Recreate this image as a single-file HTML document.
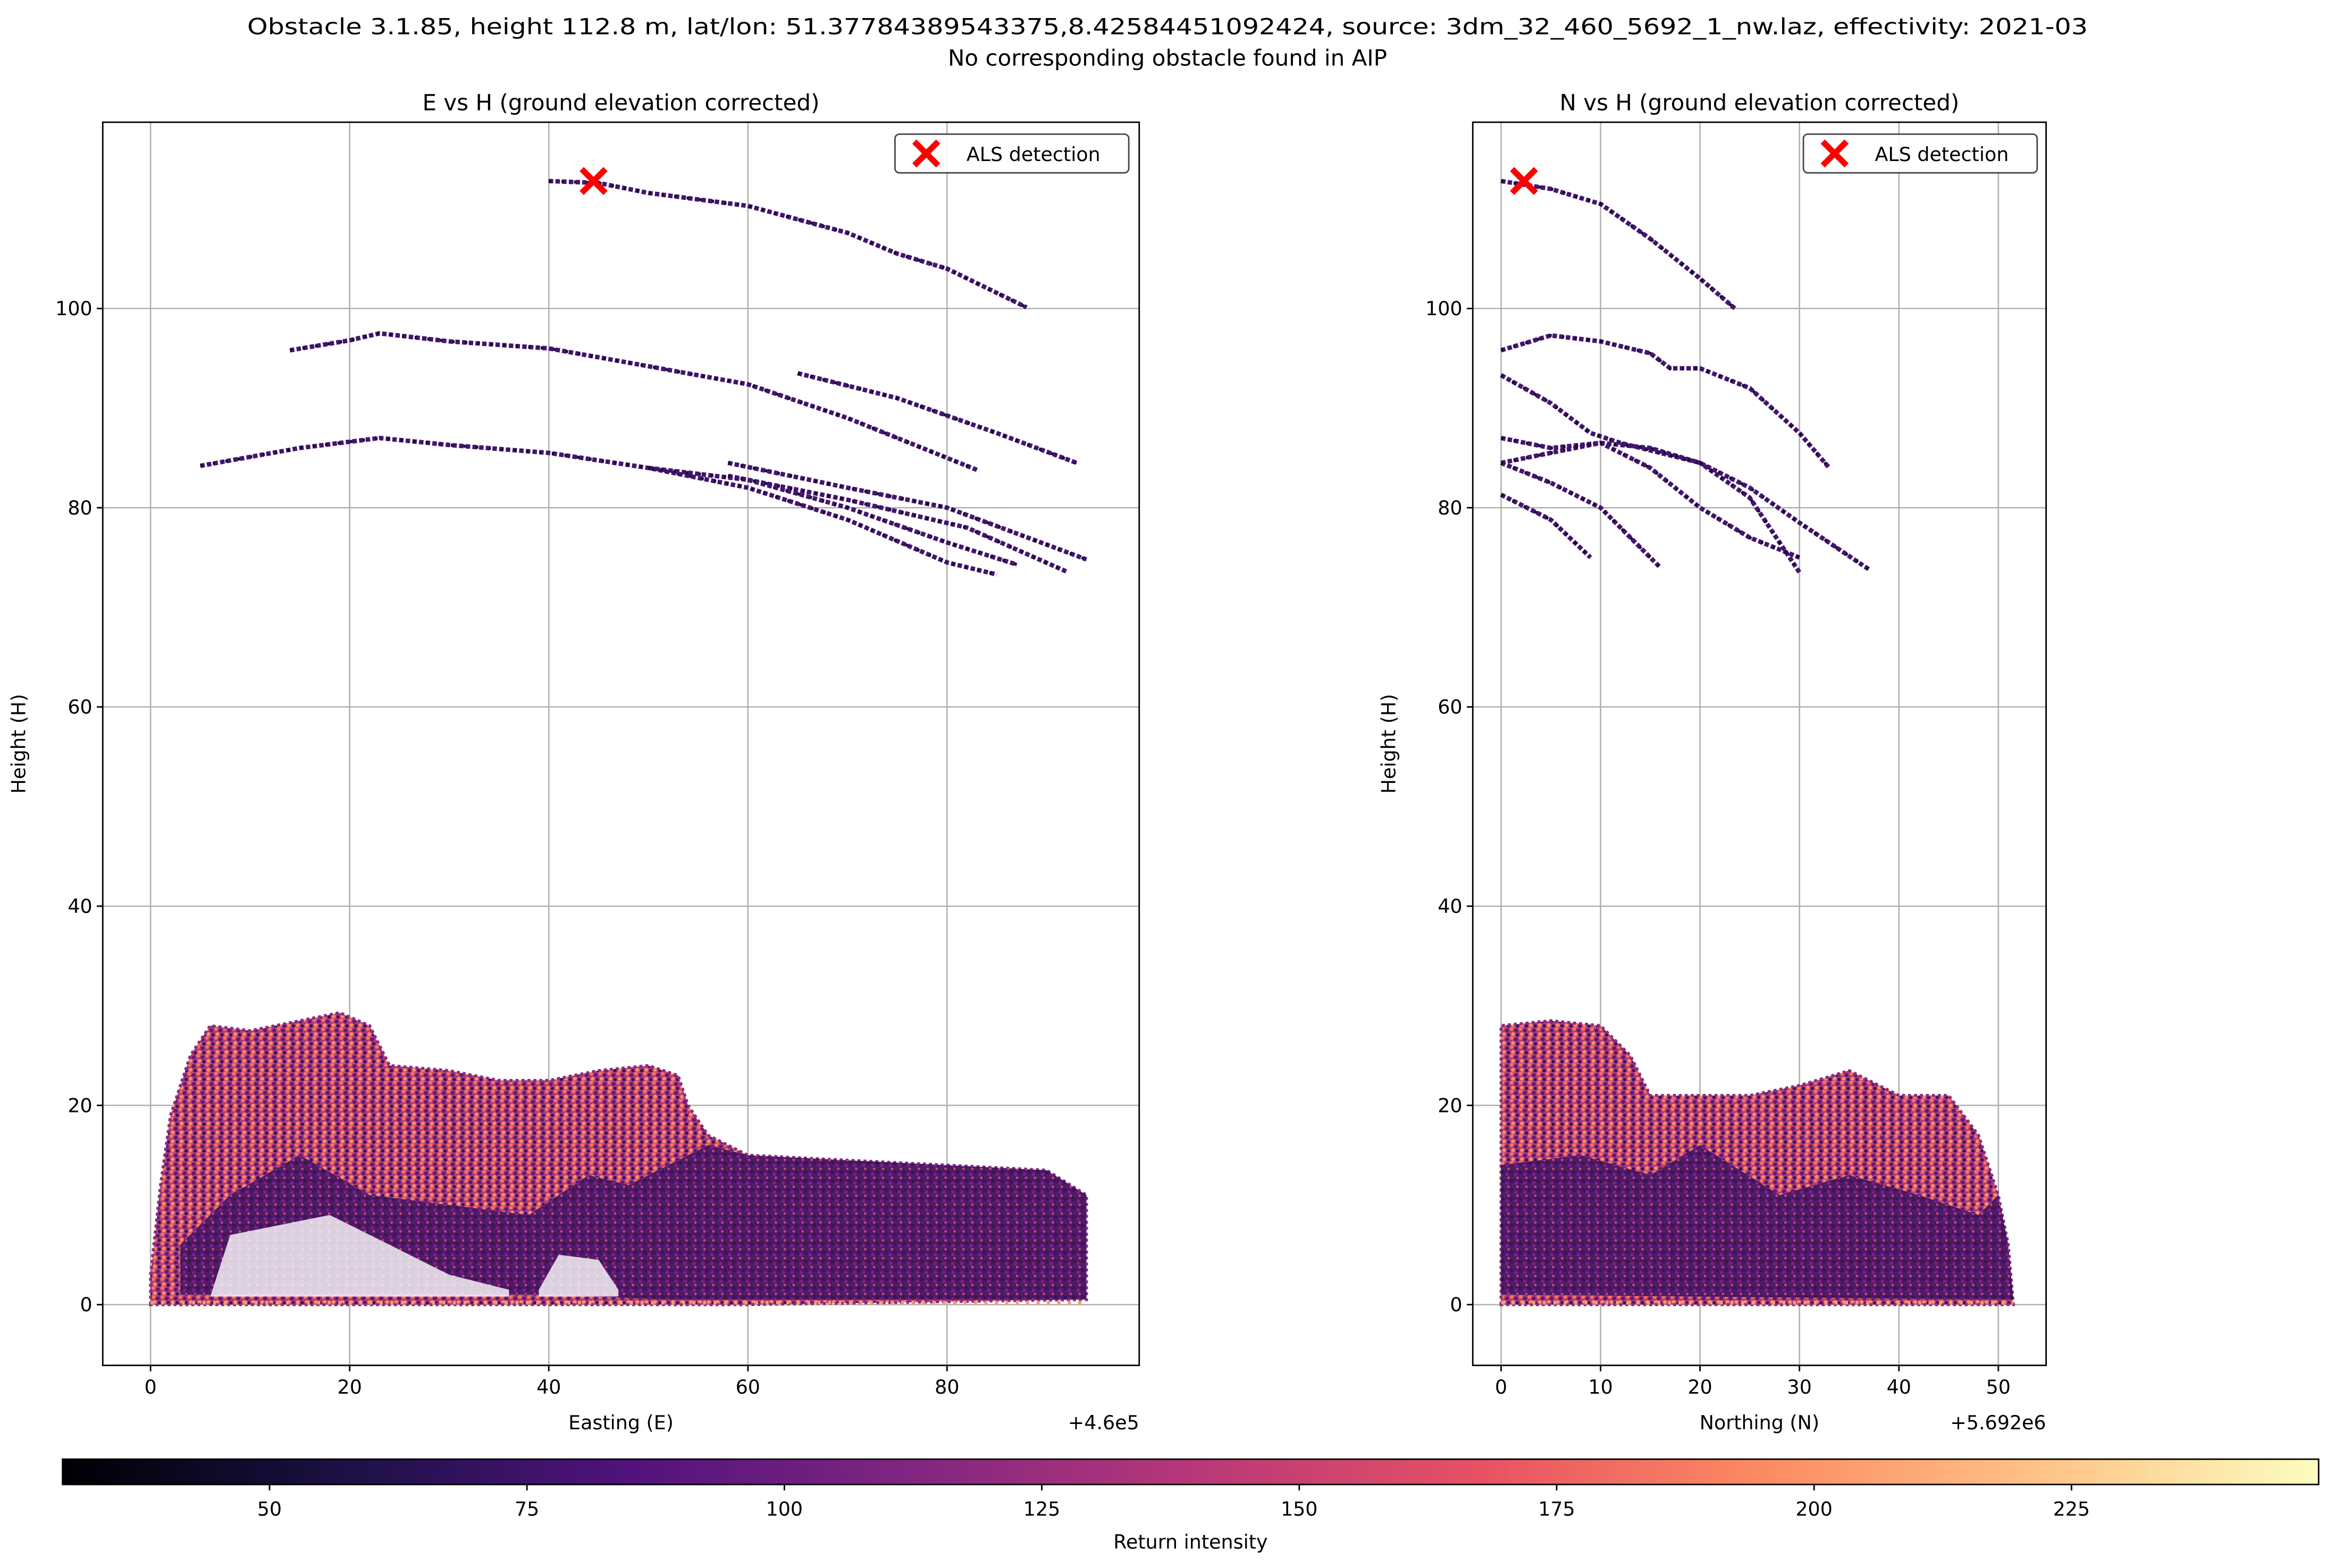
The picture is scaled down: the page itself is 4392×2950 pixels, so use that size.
<!DOCTYPE html>
<html><head><meta charset="utf-8"><style>
html,body{margin:0;padding:0;background:#fff;width:4392px;height:2950px;overflow:hidden}
svg{display:block}
text{font-family:"DejaVu Sans","Liberation Sans",sans-serif;fill:#000}
</style></head><body>
<svg id="fig" xmlns="http://www.w3.org/2000/svg" width="4392" height="2950" viewBox="0 0 1568 1053">
<defs>
<pattern id="pink" width="6" height="6" patternUnits="userSpaceOnUse">
<rect width="6" height="6" fill="#b23a78"/><circle cx="1" cy="1" r="1.3" fill="#f7765b"/><circle cx="4" cy="2" r="1.3" fill="#5a1a7a"/><circle cx="2" cy="4.5" r="1.3" fill="#fb8f63"/><circle cx="5" cy="5" r="1.1" fill="#2d1160"/><circle cx="3" cy="0" r="0.9" fill="#d94f6c"/>
</pattern>
<pattern id="dark" width="6" height="6" patternUnits="userSpaceOnUse">
<rect width="6" height="6" fill="#3d0f70"/><circle cx="1" cy="1" r="1.3" fill="#160b38"/><circle cx="4" cy="2.5" r="1.2" fill="#7d2482"/><circle cx="2" cy="4.5" r="1.2" fill="#28105a"/><circle cx="5" cy="5" r="0.9" fill="#e5546a"/>
</pattern>
<linearGradient id="magma" x1="0" x2="1" y1="0" y2="0">
<stop offset="0" stop-color="#000004"/><stop offset="0.13" stop-color="#1d1147"/><stop offset="0.25" stop-color="#51127c"/><stop offset="0.38" stop-color="#822681"/><stop offset="0.5" stop-color="#b73779"/><stop offset="0.63" stop-color="#e75263"/><stop offset="0.75" stop-color="#fc8961"/><stop offset="0.88" stop-color="#fec488"/><stop offset="1" stop-color="#fcfdbf"/>
</linearGradient>
<clipPath id="clipL"><rect x="69" y="82" width="696" height="835"/></clipPath>
<clipPath id="clipR"><rect x="989" y="82" width="385" height="835"/></clipPath>
</defs>
<text x="784" y="23" text-anchor="middle" font-size="15" textLength="1236" lengthAdjust="spacingAndGlyphs">Obstacle 3.1.85, height 112.8 m, lat/lon: 51.37784389543375,8.42584451092424, source: 3dm_32_460_5692_1_nw.laz, effectivity: 2021-03</text>
<text x="784" y="44" text-anchor="middle" font-size="15">No corresponding obstacle found in AIP</text>
<g id="L"></g>
<g id="R"></g>
<g id="CB"></g>
</svg>
<script>
// ---- data ----
const hTicks=[0,20,40,60,80,100];
const eTicks=[0,20,40,60,80];
const nTicks=[0,10,20,30,40,50];
const cbTicks=[50,75,100,125,150,175,200,225];
const detE=[44.5,112.8];
const detN=[2.3,112.8];
const wiresE=[
 [[40,112.8],[45,112.6],[50,111.6],[60,110.3],[70,107.6],[75,105.5],[80,104],[88,100.1]],
 [[14,95.8],[20,96.8],[23,97.5],[30,96.7],[40,96],[50,94.2],[60,92.4],[70,89],[83,83.8]],
 [[65,93.5],[75,91],[85,87.5],[93,84.5]],
 [[5,84.2],[15,86],[23,87],[30,86.3],[40,85.5],[50,84],[60,82],[70,78.8],[80,74.5],[85,73.3]],
 [[58,84.5],[70,82],[80,80],[90,76.3],[94,74.8]],
 [[50,84],[60,82.8],[70,80],[80,76.5],[87,74.3]],
 [[58,83.2],[70,80.8],[82,78],[92,73.6]]
];
const wiresN=[
 [[0,112.8],[5,112],[10,110.5],[15,107],[20,103],[23.5,100]],
 [[0,95.8],[5,97.3],[10,96.7],[15,95.5],[17,94],[20,94],[25,92],[30,87.5],[33,84]],
 [[0,93.3],[5,90.5],[9,87.5],[12,86.5],[20,84.5],[25,82],[30,78.5],[37,73.8]],
 [[0,87],[5,86],[10,86.5],[15,86],[20,84.5],[25,81],[30,73.5]],
 [[0,84.5],[5,85.5],[10,86.5],[15,84],[20,80],[25,77],[30,75]],
 [[0,84.5],[5,82.5],[10,80],[16,74]],
 [[0,81.3],[5,78.8],[9,75]]
];
const vegE=[[0,0],[0,3],[1,12],[2,19],[4,25],[6,28],[10,27.5],[15,28.5],[19,29.3],[22,28],[24,24],[30,23.5],[35,22.5],[40,22.5],[45,23.5],[50,24],[53,23],[54,20],[56,17],[60,15],[70,14.5],[80,14],[90,13.5],[94,11],[94,0.5],[60,0],[0,0]];
const vegDarkE=[[3,6],[8,11],[15,15],[22,11],[30,10],[38,9],[44,13],[48,12],[52,14],[56,16],[60,15],[70,14.5],[80,14],[90,13.5],[94,11],[94,0.5],[52,0.5],[40,1],[30,1],[10,1],[3,1]];
const vegHoleE=[[6,0.8],[8,7],[13,8],[18,9],[24,6],[30,3],[36,1.5],[36,0.8]];
const vegHole2E=[[39,1.5],[41,5],[45,4.5],[47,1.5],[47,0.8],[39,0.8]];
const vegN=[[0,0],[0,28],[5,28.5],[10,28],[13,25],[15,21],[25,21],[30,22],[35,23.5],[40,21],[45,21],[48,17],[50,11],[51,6],[51.5,0],[0,0]];
const vegDarkN=[[0,1],[0,14],[8,15],[15,13],[20,16],[28,11],[35,13],[42,11],[48,9],[50,11],[51,6],[51.5,0.5]];
// ---- helpers ----
const NS='http://www.w3.org/2000/svg';
function mk(p,tag,at,txt){const e=document.createElementNS(NS,tag);for(const k in at)e.setAttribute(k,at[k]);if(txt!==undefined)e.textContent=txt;p.appendChild(e);return e;}
function panel(g,cfg){
 const {x0,x1,y0,y1,xmin,xmax,ymin,ymax}=cfg;
 const sx=v=>x0+(v-xmin)/(xmax-xmin)*(x1-x0);
 const sy=v=>y1-(v-ymin)/(ymax-ymin)*(y1-y0);
 cfg.xt.forEach(t=>{const l=mk(g,'line',{x1:sx(t),x2:sx(t),y1:y0,y2:y1,stroke:'#b0b0b0','stroke-width':0.9});
  
  });
 hTicks.forEach(t=>{const l=mk(g,'line',{x1:x0,x2:x1,y1:sy(t),y2:sy(t),stroke:'#b0b0b0','stroke-width':0.9});
  
  });
 const cg=mk(g,'g',{'clip-path':cfg.clip});
 
 
 const pts=a=>a.map(p=>sx(p[0]).toFixed(1)+','+sy(p[1]).toFixed(1)).join(' ');
 const v=mk(cg,'polygon',{points:pts(cfg.veg),fill:'url(#pink)',stroke:'#8a2a80','stroke-width':2,'stroke-dasharray':'2 2'});
 
 
 const d=mk(cg,'polygon',{points:pts(cfg.dark),fill:'url(#dark)',opacity:0.85});
 
 
 (cfg.holes||[]).forEach(h=>{const e=mk(cg,'polygon',{points:pts(h),fill:'#fff',opacity:0.8});
  
  });
 const gl=mk(cg,'line',{x1:sx(cfg.xt[0]),x2:sx(cfg.gEnd),y1:sy(0.2),y2:sy(0.2),stroke:'#f59a6a','stroke-width':2.5,'stroke-dasharray':'2 5'});
 
 
 cfg.wires.forEach(w=>{
  const p=mk(cg,'polyline',{points:pts(w),fill:'none',stroke:'#44146f','stroke-width':3,'stroke-dasharray':'3 1.5','stroke-linejoin':'round'});
  
  
  const q=mk(cg,'polyline',{points:pts(w),fill:'none',stroke:'#140a30','stroke-width':2,'stroke-dasharray':'1.5 7'});
  
  
 });
 const mx=sx(cfg.det[0]),my=sy(cfg.det[1]);
 const m=mk(g,'path',{d:`M${mx-8},${my-8}L${mx+8},${my+8}M${mx-8},${my+8}L${mx+8},${my-8}`,stroke:'#ff0000','stroke-width':4});
 
 
 const f=mk(g,'rect',{x:x0,y:y0,width:x1-x0,height:y1-y0,fill:'none',stroke:'#000','stroke-width':1});
 
 
 cfg.xt.forEach(t=>{mk(g,'line',{x1:sx(t),x2:sx(t),y1:y1,y2:y1+4,stroke:'#000','stroke-width':1});
  const tx=mk(g,'text',{x:sx(t),y:y1+19,'text-anchor':'middle','font-size':13},String(t));
  
  });
 hTicks.forEach(t=>{mk(g,'line',{x1:x0-4,x2:x0,y1:sy(t),y2:sy(t),stroke:'#000','stroke-width':1});
  const tx=mk(g,'text',{x:x0-7,y:sy(t)+4.5,'text-anchor':'end','font-size':13},String(t));
  
  });
 const ti=mk(g,'text',{x:(x0+x1)/2,y:y0-8,'text-anchor':'middle','font-size':15},cfg.title);
 
 
 const xl=mk(g,'text',{x:(x0+x1)/2,y:y1+43,'text-anchor':'middle','font-size':13},cfg.xlabel);
 
 
 const off=mk(g,'text',{x:x1,y:y1+43,'text-anchor':'end','font-size':13},cfg.offset);
 
 
 const yl=mk(g,'text',{x:0,y:0,'text-anchor':'middle','font-size':13,transform:`translate(${x0-52},${(y0+y1)/2}) rotate(-90)`},'Height (H)');
 
 
 const lg=mk(g,'g',{});
 
 
 mk(lg,'rect',{x:cfg.legX,y:90,width:157,height:26,rx:3,fill:'#fff',stroke:'#333','stroke-width':1,opacity:0.9});
 const lx=cfg.legX+21;
 mk(lg,'path',{d:`M${lx-8},95L${lx+8},111M${lx-8},111L${lx+8},95`,stroke:'#ff0000','stroke-width':4});
 const lt=mk(lg,'text',{x:cfg.legX+48,y:108,'font-size':13},'ALS detection');
 
 
}
panel(document.getElementById('L'),{x0:69,x1:765,y0:82,y1:917,xmin:-4.8,xmax:99.3,ymin:-6.1,ymax:118.7,xt:eTicks,veg:vegE,dark:vegDarkE,holes:[vegHoleE,vegHole2E],wires:wiresE,det:detE,gEnd:94,title:'E vs H (ground elevation corrected)',xlabel:'Easting (E)',offset:'+4.6e5',legX:601,clip:'url(#clipL)'});
panel(document.getElementById('R'),{x0:989,x1:1374,y0:82,y1:917,xmin:-2.85,xmax:54.8,ymin:-6.1,ymax:118.7,xt:nTicks,veg:vegN,dark:vegDarkN,holes:[],wires:wiresN,det:detN,gEnd:51.5,title:'N vs H (ground elevation corrected)',xlabel:'Northing (N)',offset:'+5.692e6',legX:1211,clip:'url(#clipR)'});
(function(){
 const g=document.getElementById('CB');
 const cx0=42,cx1=1557,cy0=980,cy1=997,vmin=29.9,vmax=249;
 const sc=v=>cx0+(v-vmin)/(vmax-vmin)*(cx1-cx0);
 const r=mk(g,'rect',{x:cx0,y:cy0,width:cx1-cx0,height:cy1-cy0,fill:'url(#magma)',stroke:'#000','stroke-width':1});
 
 
 cbTicks.forEach(t=>{mk(g,'line',{x1:sc(t),x2:sc(t),y1:cy1,y2:cy1+4,stroke:'#000','stroke-width':1});
  const tx=mk(g,'text',{x:sc(t),y:cy1+21,'text-anchor':'middle','font-size':13},String(t));
  
  });
 const l=mk(g,'text',{x:(cx0+cx1)/2,y:1040,'text-anchor':'middle','font-size':13},'Return intensity');
 
 
})();
</script>
</body></html>
